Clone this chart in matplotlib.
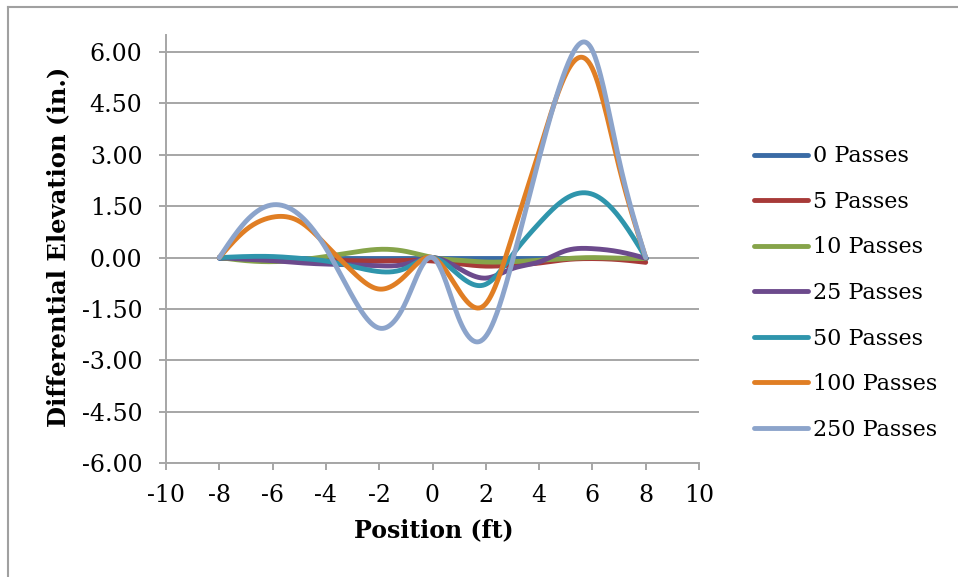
import numpy as np
import matplotlib
matplotlib.use("Agg")
import matplotlib.pyplot as plt
from matplotlib.lines import Line2D

# position along the profile (ft)
position = [-8, -7, -6, -5, -4, -3, -2, -1, 0, 1, 2, 3, 4, 5, 6, 7, 8]

# differential elevation (in.)
passes_0 = [0, 0, 0, 0, 0, 0, 0, 0, 0, 0, 0, 0, 0, 0, 0, 0, 0]
passes_5 = [0, -0.02, -0.05, -0.06, -0.08, -0.09, -0.10, -0.08, -0.10, -0.18, -0.25, -0.22, -0.16, -0.06, -0.03, -0.06, -0.14]
passes_10 = [0, -0.09, -0.12, -0.07, 0.03, 0.15, 0.24, 0.18, 0, -0.08, -0.13, -0.12, -0.08, -0.03, 0.0, -0.02, -0.03]
passes_25 = [0, -0.05, -0.09, -0.15, -0.19, -0.21, -0.24, -0.19, 0, -0.32, -0.60, -0.32, -0.13, 0.20, 0.26, 0.17, -0.02]
passes_50 = [0, 0.03, 0.03, -0.02, -0.10, -0.26, -0.41, -0.31, 0, -0.52, -0.78, 0.08, 1.00, 1.72, 1.85, 1.19, 0]
passes_100 = [0, 0.81, 1.18, 1.06, 0.37, -0.41, -0.92, -0.51, 0, -0.98, -1.35, 0.65, 3.10, 5.35, 5.52, 2.65, 0]
passes_250 = [0, 1.06, 1.54, 1.25, 0.27, -1.14, -2.06, -1.30, 0, -1.80, -2.30, -0.10, 2.90, 5.50, 6.05, 2.85, 0]

labels = ["0 Passes", "5 Passes", "10 Passes", "25 Passes", "50 Passes", "100 Passes", "250 Passes"]
colors = ["#3A6BA5", "#A73A38", "#86A44A", "#6C4A8C", "#2F95AC", "#E07E24", "#8CA4CB"]


# natural cubic spline through the points, for the smoothed line look
def smooth(xs, ys, steps=30):
    x = np.asarray(xs, float)
    y = np.asarray(ys, float)
    n = len(x)
    h = np.diff(x)
    A = np.zeros((n, n))
    r = np.zeros(n)
    A[0, 0] = A[-1, -1] = 1
    for i in range(1, n - 1):
        A[i, i - 1] = h[i - 1]
        A[i, i] = 2 * (h[i - 1] + h[i])
        A[i, i + 1] = h[i]
        r[i] = 6 * ((y[i + 1] - y[i]) / h[i] - (y[i] - y[i - 1]) / h[i - 1])
    M = np.linalg.solve(A, r)
    sx, sy = [], []
    for i in range(n - 1):
        t = np.linspace(x[i], x[i + 1], steps)[:-1] if i < n - 2 else np.linspace(x[i], x[i + 1], steps)
        a = x[i + 1] - t
        b = t - x[i]
        v = (M[i] * a ** 3 + M[i + 1] * b ** 3) / (6 * h[i]) \
            + (y[i] / h[i] - M[i] * h[i] / 6) * a + (y[i + 1] / h[i] - M[i + 1] * h[i] / 6) * b
        sx.extend(t)
        sy.extend(v)
    return np.array(sx), np.array(sy)


plt.rcParams['font.family'] = ['DejaVu Serif']
plt.rcParams['axes.unicode_minus'] = False

fig = plt.figure(figsize=(9.58, 5.77), dpi=100)
ax = fig.add_axes([166 / 958, 1 - 463 / 577, 533 / 958, 428 / 577])

series = [passes_0, passes_5, passes_10, passes_25, passes_50, passes_100, passes_250]
for vals, lab, col in zip(series, labels, colors):
    sx, sy = smooth(position, vals)
    ax.plot(sx, sy, color=col, lw=3.5, label=lab, solid_capstyle='round')

ax.set_xlim(-10, 10)
ax.set_ylim(-6, 6.5)
ax.set_xticks(np.arange(-10, 11, 2))
ax.set_yticks(np.arange(-6, 6.01, 1.5))
ax.set_yticklabels(["%.2f" % v for v in np.arange(-6, 6.01, 1.5)])

grid_col = "#A6A6A6"
ax.yaxis.grid(True, color=grid_col, lw=1.4)
ax.set_axisbelow(True)
for s in ['top', 'right']:
    ax.spines[s].set_visible(False)
for s in ['left', 'bottom']:
    ax.spines[s].set_color(grid_col)
    ax.spines[s].set_linewidth(1.4)
ax.tick_params(axis='both', colors=grid_col, length=5, width=1.4, labelcolor='black', labelsize=17)
ax.tick_params(axis='y', pad=12)
ax.tick_params(axis='x', pad=10)

ax.set_xlabel("Position (ft)", fontsize=17, fontweight='bold')
ax.set_ylabel("Differential Elevation (in.)", fontsize=17.5, fontweight='bold')
ax.xaxis.set_label_coords(0.503, -0.128)
ax.yaxis.set_label_coords(-0.18, 0.505)

ax.legend(loc='center left', bbox_to_anchor=(754 / 958, 1 - 293 / 577), bbox_transform=fig.transFigure,
          frameon=False, fontsize=16, handlelength=2.45, handletextpad=0.2, labelspacing=1.06,
          borderpad=0, borderaxespad=0)

# chart area border (left and top edges show)
fig.add_artist(Line2D([7.5 / 958, 7.5 / 958], [0, 1 - 6.5 / 577], color="#A0A0A0", lw=1.5))
fig.add_artist(Line2D([7.5 / 958, 1], [1 - 6.5 / 577, 1 - 6.5 / 577], color="#A0A0A0", lw=1.5))

fig.savefig("out.png", dpi=100)
